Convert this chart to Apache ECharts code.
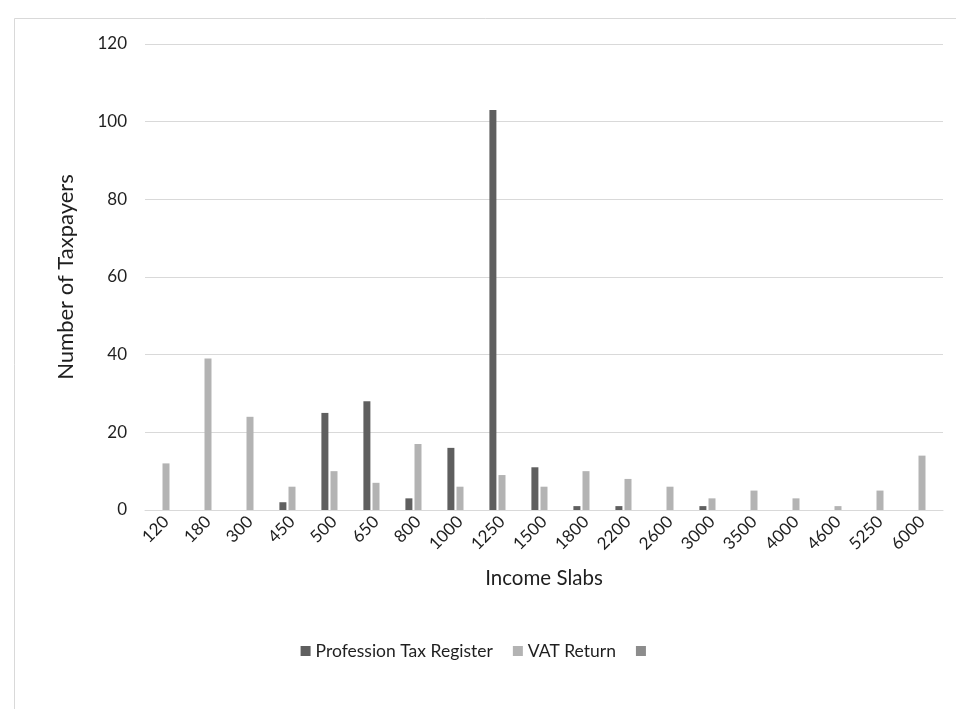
<!DOCTYPE html>
<html>
<head>
<meta charset="utf-8">
<script src="https://cdn.jsdelivr.net/npm/echarts@6/dist/echarts.min.js"></script>
<style>
  html, body { margin: 0; padding: 0; background: #ffffff; }
  #chart { width: 956px; height: 709px; }
</style>
</head>
<body>
<div id="chart"></div>
<script>
// Income slab categories on the x axis
const incomeSlabs = ['120', '180', '300', '450', '500', '650', '800', '1000', '1250', '1500',
  '1800', '2200', '2600', '3000', '3500', '4000', '4600', '5250', '6000'];

// Taxpayer counts per slab
const professionTax = [0, 0, 0, 2, 25, 28, 3, 16, 103, 11, 1, 1, 0, 1, 0, 0, 0, 0, 0];
const vatReturn = [12, 39, 24, 6, 10, 7, 17, 6, 9, 6, 10, 8, 6, 3, 5, 3, 1, 5, 14];
const thirdSeries = [];

const yTicks = { min: 0, max: 120, interval: 20 };

const FONT = 'Lato, "Open Sans", sans-serif';
const TEXT = '#1f1f1f';

const chart = echarts.init(document.getElementById('chart'), null, { renderer: 'canvas' });

chart.setOption({
  backgroundColor: '#ffffff',
  animation: false,
  graphic: [{
    type: 'rect',
    left: 12, top: 16,
    shape: { width: 980, height: 740 },
    style: { fill: 'none', stroke: '#d9d9d9', lineWidth: 1 },
    silent: true
  }],
  grid: { left: 145, right: 13, top: 44, bottom: 199, containLabel: false },
  legend: {
    top: 637,
    left: 'center',
    itemWidth: 10,
    itemHeight: 10,
    itemGap: 20,
    icon: 'rect',
    textStyle: { fontFamily: FONT, fontSize: 17.5, color: TEXT },
    data: ['Profession Tax Register', 'VAT Return', ' ']
  },
  xAxis: {
    type: 'category',
    data: incomeSlabs,
    name: 'Income Slabs',
    nameLocation: 'middle',
    nameGap: 58,
    nameTextStyle: { fontFamily: FONT, fontSize: 20.5, color: TEXT },
    axisLine: { lineStyle: { color: '#d9d9d9', width: 1 } },
    axisTick: { show: false },
    axisLabel: {
      interval: 0,
      rotate: 45,
      margin: 9,
      fontFamily: FONT,
      fontSize: 17,
      color: TEXT
    }
  },
  yAxis: {
    type: 'value',
    min: yTicks.min,
    max: yTicks.max,
    interval: yTicks.interval,
    name: 'Number of Taxpayers',
    nameLocation: 'middle',
    nameGap: 68,
    nameTextStyle: { fontFamily: FONT, fontSize: 22, color: TEXT },
    axisLine: { show: false },
    axisTick: { show: false },
    splitLine: { lineStyle: { color: '#d9d9d9', width: 1 } },
    axisLabel: { margin: 18, fontFamily: FONT, fontSize: 17, color: TEXT }
  },
  series: [
    {
      name: 'Profession Tax Register',
      type: 'bar',
      data: professionTax,
      barWidth: 7,
      barGap: '30%',
      itemStyle: { color: '#5f5f5f' }
    },
    {
      name: 'VAT Return',
      type: 'bar',
      data: vatReturn,
      barWidth: 7,
      barGap: '30%',
      itemStyle: { color: '#b3b3b3' }
    },
    {
      name: ' ',
      type: 'bar',
      data: thirdSeries,
      barWidth: 7,
      barGap: '30%',
      itemStyle: { color: '#8c8c8c' }
    }
  ]
});
</script>
</body>
</html>
